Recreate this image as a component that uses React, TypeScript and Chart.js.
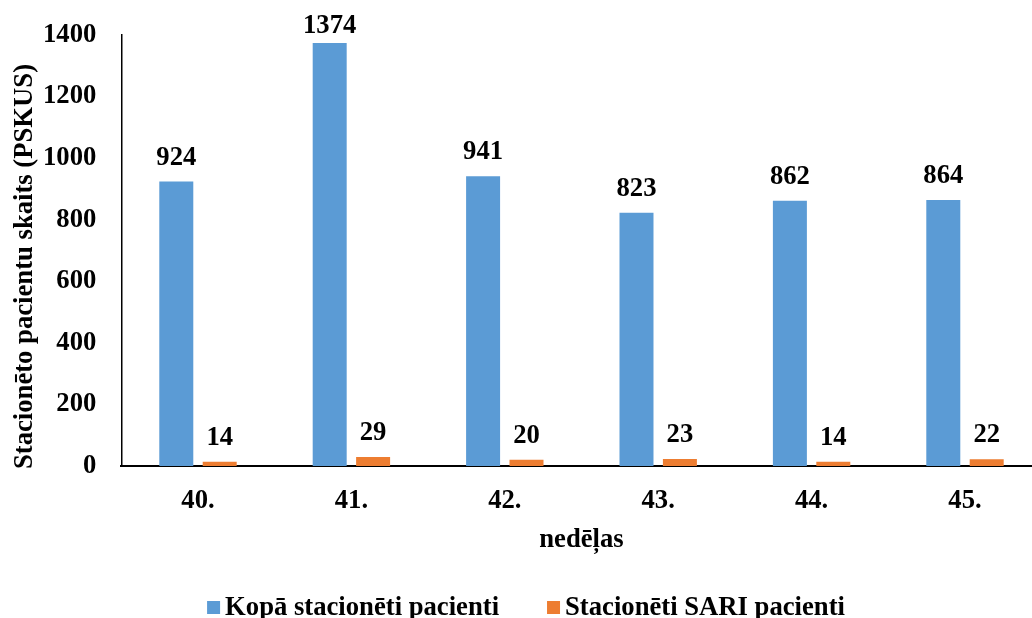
import React, { useEffect, useRef } from "react";
import { Chart, registerables } from "chart.js";

Chart.register(...registerables);

const weeks = ["40.", "41.", "42.", "43.", "44.", "45."];
const totalPatients = [924, 1374, 941, 823, 862, 864];
const sariPatients = [14, 29, 20, 23, 14, 22];
const seriesNames = ["Kopā stacionēti pacienti", "Stacionēti SARI pacienti"];
const seriesColors = ["#5B9BD5", "#ED7D31"];
const yTitle = "Stacionēto pacientu skaits (PSKUS)";
const xTitle = "nedēļas";
const yMin = 0;
const yMax = 1400;
const yStep = 200;

const FONT = '"Liberation Serif", "Times New Roman", serif';
const FS = 26.67;

const overlayPlugin = {
  id: "overlay",
  afterDatasetsDraw(chart: any) {
    const ctx = chart.ctx as CanvasRenderingContext2D;
    ctx.save();
    ctx.fillStyle = "#000";
    ctx.font = `bold ${FS}px ${FONT}`;
    ctx.textAlign = "center";
    ctx.textBaseline = "alphabetic";
    chart.data.datasets.forEach((ds: any, di: number) => {
      const meta = chart.getDatasetMeta(di);
      meta.data.forEach((bar: any, i: number) => {
        ctx.fillText(String(ds.data[i]), bar.x, Math.max(bar.y - 17, 33));
      });
    });
    ctx.restore();
  },
  afterDraw(chart: any) {
    const ctx = chart.ctx as CanvasRenderingContext2D;
    const area = chart.chartArea;
    ctx.save();
    ctx.fillStyle = "#000";
    ctx.font = `bold ${FS}px ${FONT}`;
    // y title
    ctx.save();
    ctx.translate(32, (area.top + area.bottom) / 2 + 16);
    ctx.rotate(-Math.PI / 2);
    ctx.textAlign = "center";
    ctx.textBaseline = "alphabetic";
    ctx.fillText(yTitle, 0, 0);
    ctx.restore();
    // x title
    ctx.textAlign = "center";
    ctx.textBaseline = "alphabetic";
    ctx.fillText(xTitle, (area.left + area.right) / 2, 547);
    // legend
    const box = 13;
    const gap = 5;
    const itemGap = 48;
    const widths = seriesNames.map((n) => ctx.measureText(n).width);
    const total = widths.reduce((a, w) => a + box + gap + w, 0) + itemGap * (seriesNames.length - 1);
    let x = 526 - total / 2;
    const baseY = 615;
    ctx.textAlign = "left";
    seriesNames.forEach((name, i) => {
      ctx.fillStyle = seriesColors[i];
      ctx.fillRect(x, 601, box, box);
      ctx.fillStyle = "#000";
      ctx.fillText(name, x + box + gap, baseY);
      x += box + gap + widths[i] + itemGap;
    });
    ctx.restore();
  },
};

export default function App() {
  const ref = useRef<HTMLCanvasElement | null>(null);

  useEffect(() => {
    if (!ref.current) return;
    const chart = new Chart(ref.current, {
      type: "bar",
      data: {
        labels: weeks,
        datasets: [
          {
            label: seriesNames[0],
            data: totalPatients,
            backgroundColor: seriesColors[0],
            categoryPercentage: 0.566,
            barPercentage: 0.783,
          },
          {
            label: seriesNames[1],
            data: sariPatients,
            backgroundColor: seriesColors[1],
            categoryPercentage: 0.566,
            barPercentage: 0.783,
          },
        ],
      },
      options: {
        responsive: false,
        animation: false,
        layout: { padding: { top: 35, left: 0, right: 8.3, bottom: 0 } },
        plugins: {
          legend: { display: false },
          tooltip: { enabled: false },
        },
        scales: {
          x: {
            grid: { display: false },
            border: { display: true, color: "#000", width: 2 },
            ticks: {
              color: "#000",
              padding: 11,
              font: { family: FONT, size: FS, weight: "bold" },
            },
            afterFit(scale: any) {
              scale.height = 152;
              scale.paddingLeft = 0;
              scale.paddingRight = 0;
            },
          },
          y: {
            min: yMin,
            max: yMax,
            grid: { display: false },
            border: { display: true, color: "#000", width: 1.5 },
            ticks: {
              stepSize: yStep,
              color: "#000",
              padding: 17,
              font: { family: FONT, size: FS, weight: "bold" },
              callback: (v: any) => String(v),
            },
            afterFit(scale: any) {
              scale.width = 121.3;
              scale.paddingTop = 0;
              scale.paddingBottom = 0;
            },
          },
        },
      },
      plugins: [overlayPlugin],
    });
    return () => chart.destroy();
  }, []);

  return (
    <div
      style={{
        position: "fixed",
        left: 0,
        top: 0,
        width: 1032,
        height: 618,
        overflow: "hidden",
        background: "#fff",
      }}
    >
      <canvas ref={ref} width={1050} height={618} style={{ width: 1050, height: 618, display: "block" }} />
    </div>
  );
}
